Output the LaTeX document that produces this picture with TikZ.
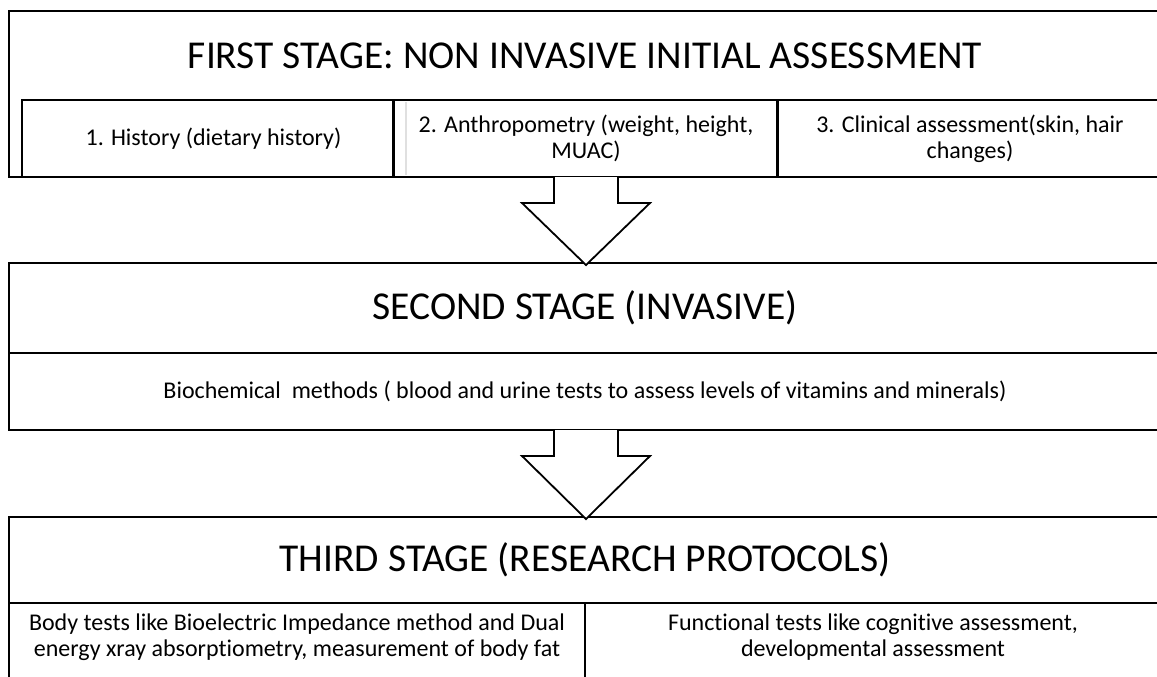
\documentclass[tikz,border=0pt]{standalone}
\usepackage{fontspec}
\setmainfont{Carlito}[Ligatures=CommonOff]
\usetikzlibrary{calc}
\tikzset{
	stagebox/.style={draw, line width=2pt, anchor=north west, inner sep=0pt, outer sep=0pt},
	headtxt/.style={font=\fontsize{39.5}{47}\selectfont},
	subtxt/.style={font=\fontsize{24}{26}\selectfont, align=center},
	blockarrow/.style={draw, fill=white, line width=1.8pt, line join=miter},
}
\newcommand{\BlockArrow}[2]%
% upper node, lower node
{	\draw[blockarrow] ($(#1.south)+(-31,0)$) -- ($(#1.south)+(-31,26)$)
		-- ($(#1.south)+(-63,26)$) -- ($(#2.north)+(1,2)$)
		-- ($(#1.south)+(65,26)$) -- ($(#1.south)+(33,26)$)
		-- ($(#1.south)+(33,0)$);
}

\begin{document}
\begin{tikzpicture}[x=1pt,y=-1pt]
	\useasboundingbox (0,0) rectangle (1157,677);
	% first stage
	\node[stagebox, minimum width=1152, minimum height=166] (first) at (9,11) {};
	\node[headtxt] (firsttitle) at (585,55.5) {FIRST STAGE: NON INVASIVE INITIAL ASSESSMENT};
	\node[stagebox, subtxt, minimum width=371, minimum height=77] (hist) at (22,100) {};
	\node[subtxt] (histtxt) at ($(hist.center)+(6,0)$) {1. History (dietary history)};
	\node[stagebox, subtxt, minimum width=384, minimum height=77] (anthro) at (394,100) {2. Anthropometry (weight, height,\\MUAC)};
	\draw[black!12, line width=1.5pt] ($(anthro.north west)+(12,2)$) -- ($(anthro.south west)+(12,-2)$);
	\node[stagebox, subtxt, minimum width=386, minimum height=77] (clin) at (777,100) {3. Clinical assessment(skin, hair\\changes)};
	% second stage
	\node[stagebox, headtxt, minimum width=1152, minimum height=90] (second) at (9,263) {SECOND STAGE (INVASIVE)};
	\node[stagebox, subtxt, minimum width=1152, minimum height=77] (biochem) at (9,353) {Biochemical\ \ methods ( blood and urine tests to assess levels of vitamins and minerals)};
	% third stage
	\node[stagebox, headtxt, minimum width=1152, minimum height=86] (third) at (9,517) {THIRD STAGE (RESEARCH PROTOCOLS)};
	\node[stagebox, minimum width=576, minimum height=100] (bodycell) at (9,603) {};
	\node[stagebox, minimum width=576, minimum height=100] (funccell) at (585,603) {};
	\node[subtxt] (bodytests) at ($(bodycell.north)+(0,34)$) {Body tests like Bioelectric Impedance method and Dual\\energy xray absorptiometry, measurement of body fat};
	\node[subtxt] (functests) at ($(funccell.north)+(0,34)$) {Functional tests like cognitive assessment,\\developmental assessment};
	% arrows
	\BlockArrow{first}{second}
	\BlockArrow{biochem}{third}
\end{tikzpicture}
\end{document}
